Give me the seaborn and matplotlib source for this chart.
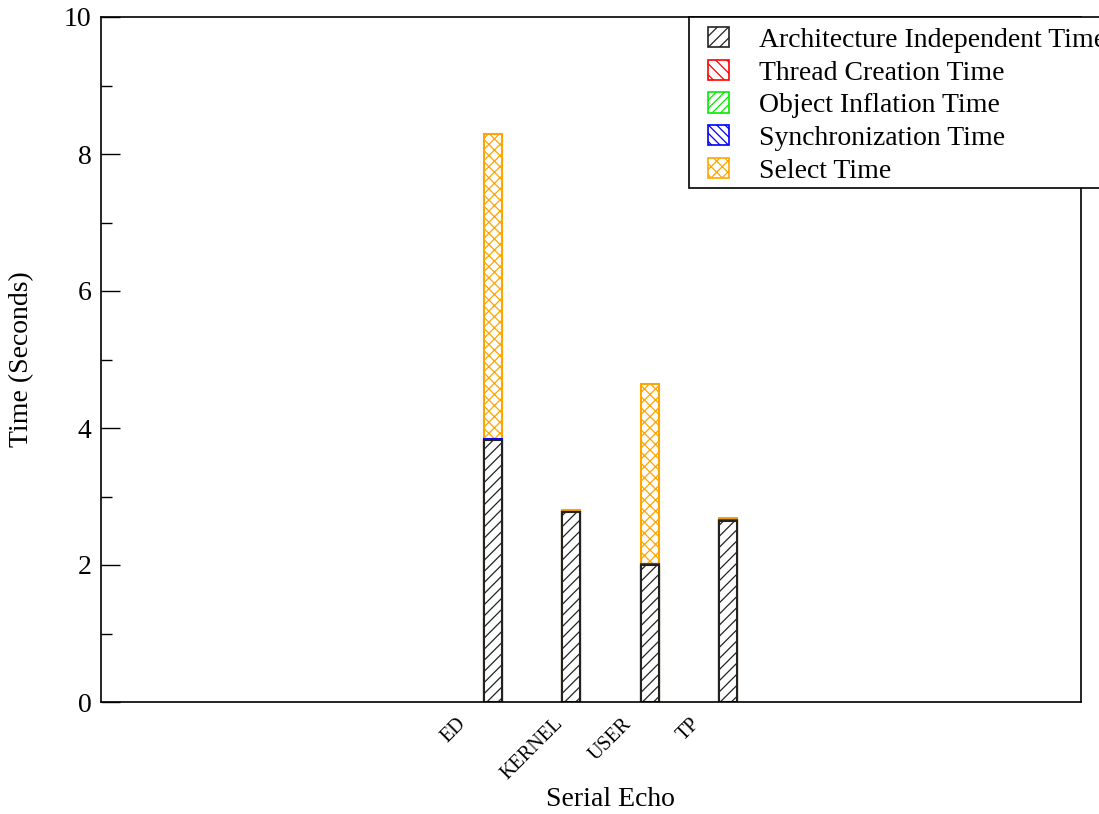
import seaborn as sns
import matplotlib.pyplot as plt
import matplotlib.transforms as mtransforms
from matplotlib.patches import Patch, Rectangle
from matplotlib.ticker import MultipleLocator
import numpy as np

# ---- data (seconds) ----
configs = ["ED", "KERNEL", "USER", "TP"]
arch_time = [3.82, 2.77, 2.00, 2.64]
thread_time = [0.00, 0.00, 0.01, 0.02]
inflation_time = [0.00, 0.00, 0.00, 0.00]
sync_time = [0.02, 0.00, 0.01, 0.00]
select_time = [4.45, 0.04, 2.62, 0.03]

series_names = ["Architecture Independent Time", "Thread Creation Time",
                "Object Inflation Time", "Synchronization Time", "Select Time"]
series_values = [arch_time, thread_time, inflation_time, sync_time, select_time]
colors = ["#222222", "#ff0000", "#00ee00", "#0000ff", "#ffa500"]
hatches = ["///", "\\\\\\", "///", "\\\\\\", "xxx"]
legend_hatches = ["///", "\\\\\\", "////", "\\\\\\\\", "xxx"]

sns.set_theme(style="white")
plt.rcParams["font.family"] = ["Liberation Serif", "DejaVu Serif"]
plt.rcParams["hatch.linewidth"] = 0.9
plt.rcParams["text.color"] = "black"
plt.rcParams["axes.labelcolor"] = "black"
plt.rcParams["xtick.color"] = "black"
plt.rcParams["ytick.color"] = "black"

fig = plt.figure(figsize=(10.99, 8.14), dpi=100)
ax = fig.add_axes([101 / 1099, 1 - 702 / 814, 980 / 1099, 685 / 814])

# stacked bars: draw cumulative totals from the top layer down
cum = np.cumsum(np.array(series_values), axis=0)
for i in range(len(series_names) - 1, -1, -1):
    sns.barplot(x=configs, y=cum[i], color="white", saturation=1,
                edgecolor=colors[i], hatch=hatches[i], linewidth=1.5,
                width=0.23, errorbar=None, ax=ax)

ax.set_xlim(-5, 7.5)
ax.set_ylim(0, 10)
ax.yaxis.set_major_locator(MultipleLocator(2))
ax.yaxis.set_minor_locator(MultipleLocator(1))
ax.tick_params(axis="y", which="major", direction="in", length=14, width=1,
               labelsize=20, pad=7, left=True, right=False, color="black")
ax.tick_params(axis="y", which="minor", direction="in", length=8, width=1,
               left=True, right=False, color="black")
ax.tick_params(axis="x", length=0, labelsize=14.5, pad=9)

ax.set_xticks(range(len(configs)))
ax.set_xticklabels(configs, rotation=45, ha="center", va="top")
offset = mtransforms.ScaledTranslation(-39 / 100, 0, fig.dpi_scale_trans)
for lbl in ax.get_xticklabels():
    lbl.set_transform(lbl.get_transform() + offset)

for sp in ax.spines.values():
    sp.set_color("black")
    sp.set_linewidth(1.2)

ax.set_xlabel("Serial Echo", fontsize=20, va="top")
ax.xaxis.set_label_coords((610 - 101) / 980, (702 - 787) / 685)
ax.set_ylabel("Time (Seconds)", fontsize=20, va="center")
ax.yaxis.set_label_coords((22 - 101) / 980, 0.5)

handles = [Patch(facecolor="white", edgecolor=c, hatch=h, linewidth=1.2)
           for c, h in zip(colors, legend_hatches)]
fig.patches.append(Rectangle((689 / 1099, 1 - 188 / 814), 420 / 1099, 171 / 814,
                             transform=fig.transFigure, facecolor="white",
                             edgecolor="black", linewidth=1.2, zorder=5))
leg = fig.legend(handles, series_names, loc="upper left",
                 bbox_to_anchor=(708 / 1099, 1 - 27 / 814), borderaxespad=0,
                 fontsize=20, frameon=False, handlelength=0.74,
                 handleheight=0.74, handletextpad=1.1, labelspacing=0.25,
                 borderpad=0)
leg.set_zorder(6)

fig.savefig("out.png", dpi=100)
